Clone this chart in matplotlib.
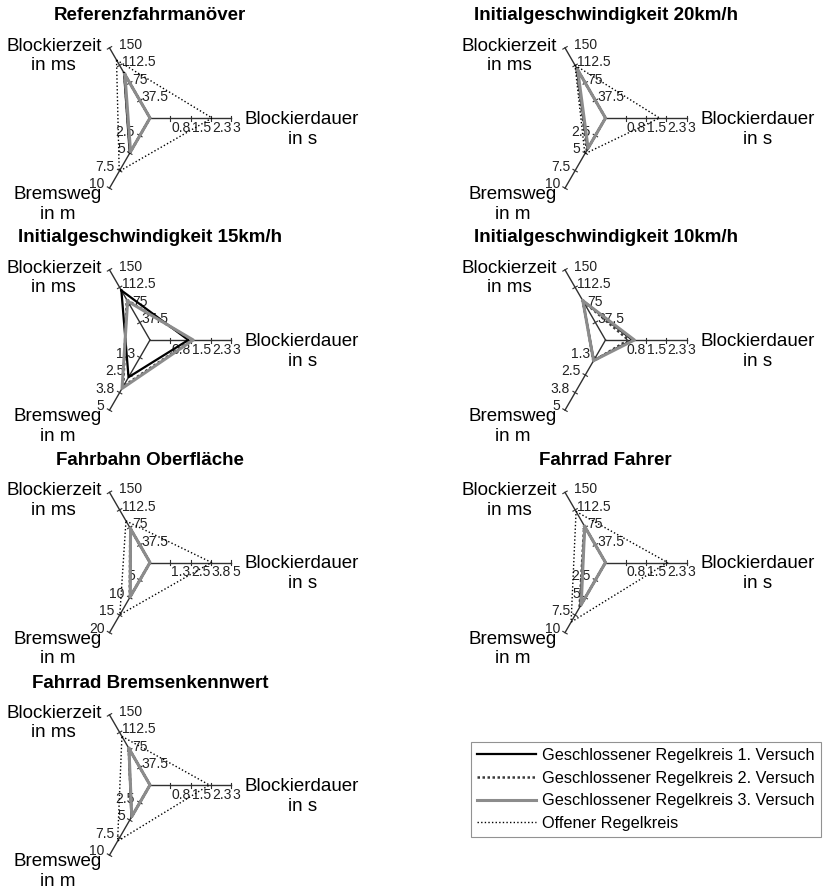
import numpy as np
import matplotlib
matplotlib.use('Agg')
import matplotlib.pyplot as plt
from matplotlib.lines import Line2D

plt.rcParams['font.family'] = ['Liberation Sans', 'DejaVu Sans']

# panel titles
titles = ['Referenzfahrmanöver', 'Initialgeschwindigkeit 20km/h',
          'Initialgeschwindigkeit 15km/h', 'Initialgeschwindigkeit 10km/h',
          'Fahrbahn Oberfläche', 'Fahrrad Fahrer', 'Fahrrad Bremsenkennwert']
axisLabels = ['Blockierzeit\nin ms', 'Blockierdauer\nin s', 'Bremsweg\nin m']

# axis maxima per panel: Blockierzeit, Blockierdauer, Bremsweg
bzMax = [150, 150, 150, 150, 150, 150, 150]
bdMax = [3, 3, 3, 3, 5, 3, 3]
bwMax = [10, 10, 5, 5, 20, 10, 10]

# values [Blockierzeit ms, Blockierdauer s, Bremsweg m] per panel
versuch1 = [[96, 0, 5.0], [106, 0, 4.4], [106, 1.42, 2.65], [84, 1.0, 1.45],
            [72, 0, 9.8], [77, 0, 6.2], [78, 0, 4.6]]
versuch2 = [[95, 0, 4.9], [108, 0, 4.6], [86, 1.55, 3.3], [83, 0.85, 1.5],
            [73, 0, 10.0], [79, 0, 6.4], [79, 0, 4.5]]
versuch3 = [[93, 0, 4.8], [103, 0, 4.3], [83, 1.6, 3.45], [84, 1.07, 1.47],
            [72, 0, 9.8], [77, 0, 6.0], [78, 0, 4.5]]
offen = [[124, 2.3, 7.6], [113, 2.0, 5.1], None, None,
         [89, 3.8, 14.9], [109, 2.3, 8.5], [104, 2.2, 8.0]]

seriesNames = ['Geschlossener Regelkreis 1. Versuch', 'Geschlossener Regelkreis 2. Versuch',
               'Geschlossener Regelkreis 3. Versuch', 'Offener Regelkreis']
styles = [dict(color='black', lw=1.6, ls='-'),
          dict(color='#3a3a3a', lw=1.8, ls=(0, (1, 1))),
          dict(color='#8c8c8c', lw=2.2, ls='-'),
          dict(color='black', lw=1.0, ls=(0, (1, 1.6)))]

W, H = 826, 894
L = 81.0          # axis length in px
px = 1.0 / L      # one pixel in data units
centersX = [150, 605.5]
centersY = [118, 340, 562.5, 785]
angles = np.deg2rad([120, 0, 240])
dirs = np.array([[np.cos(a), np.sin(a)] for a in angles])
fracs = np.array([0.25, 0.5, 0.75, 1.0])


def fmt(v):
    v = np.floor(v * 10 + 0.5) / 10
    return '%g' % v


fig = plt.figure(figsize=(W / 100, H / 100), dpi=100)

for p in range(len(titles)):
    cx = centersX[p % 2]
    cy = centersY[p // 2]
    x0, x1, y0, y1 = -2.1, 2.9, -1.7, 1.45
    ax = fig.add_axes([(cx + x0 * L) / W, (H - cy + y0 * L) / H,
                       (x1 - x0) * L / W, (y1 - y0) * L / H])
    ax.set_xlim(x0, x1)
    ax.set_ylim(y0, y1)
    ax.axis('off')
    maxima = [bzMax[p], bdMax[p], bwMax[p]]

    # axes and ticks
    for k, d in enumerate(dirs):
        ax.plot([0, d[0]], [0, d[1]], color='#303030', lw=1.0, zorder=1)
        perp = np.array([-d[1], d[0]])
        for j, f in enumerate(fracs):
            tp = d * f
            a = tp - perp * 2.5 * px
            b = tp + perp * 2.5 * px
            ax.plot([a[0], b[0]], [a[1], b[1]], color='#303030', lw=0.8, zorder=1)
            lab = fmt(maxima[k] * f)
            if k == 0:
                off = 9 if j == 3 else 2
                ax.text(tp[0] + off * px, tp[1] + 3 * px, lab, ha='left', va='center',
                        fontsize=10, color='#222222', zorder=2)
            elif k == 1:
                ax.text(tp[0] + 1 * px, tp[1] - 3 * px, lab, ha='left', va='top',
                        fontsize=10, color='#222222', zorder=2)
            else:
                ax.text(tp[0] - 5 * px, tp[1] + 4 * px, lab, ha='right', va='center',
                        fontsize=10, color='#222222', zorder=2)

    # axis labels
    e = dirs[0]
    ax.text(e[0] - 8 * px, e[1] - 8 * px, axisLabels[0], ha='right', va='center',
            multialignment='center', fontsize=13.5)
    e = dirs[1]
    ax.text(e[0] + 14 * px, e[1] + 7 * px, axisLabels[1], ha='left', va='top',
            multialignment='center', fontsize=13.5)
    e = dirs[2]
    ax.text(e[0] - 8 * px, e[1] + 2 * px, axisLabels[2], ha='right', va='top',
            multialignment='center', fontsize=13.5)

    ax.text(0, 102 * px, titles[p], ha='center', va='center',
            fontsize=13.5, fontweight='bold')

    # data polygons (later series drawn on top)
    for s, data in enumerate([versuch1, versuch2, versuch3, offen]):
        vals = data[p]
        if vals is None:
            continue
        r = np.array(vals) / np.array(maxima)
        pts = dirs * r[:, None]
        pts = np.vstack([pts, pts[:1]])
        ax.plot(pts[:, 0], pts[:, 1], zorder=3 + s * 0.1, **styles[s])

handles = [Line2D([], [], **st) for st in styles]
leg = fig.legend(handles, seriesNames, loc='upper left',
                 bbox_to_anchor=(471 / W, 1 - 742 / H), borderaxespad=0,
                 fontsize=11.7, frameon=True, fancybox=False, edgecolor='#777777',
                 handlelength=3.6, handletextpad=0.4, labelspacing=0.47,
                 borderpad=0.37)
leg.get_frame().set_linewidth(0.8)

fig.savefig('out.png', dpi=100, facecolor='white')
